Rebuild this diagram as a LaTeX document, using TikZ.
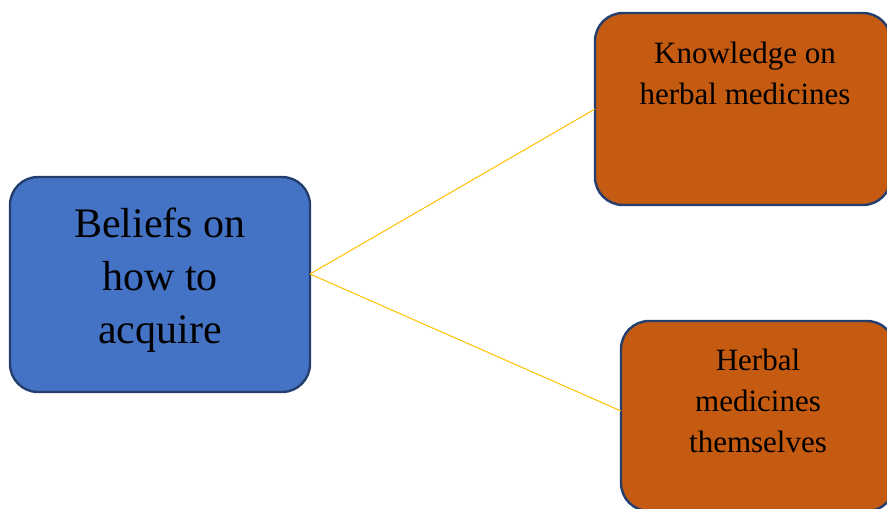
\documentclass[tikz,border=0pt]{standalone}
\usepackage{fontspec}
\setmainfont{Liberation Serif}
\definecolor{boxblue}{HTML}{4472C4}
\definecolor{boxorange}{HTML}{C55A11}
\definecolor{edgeblue}{HTML}{243F6E}
\definecolor{linkyellow}{HTML}{FFC000}
\begin{document}
\begin{tikzpicture}[x=1pt,y=-1pt,
  card/.style={draw=edgeblue, line width=2.4pt, rounded corners=28pt,
    inner sep=0pt, outer sep=0pt},
  bluecard/.style={card, fill=boxblue},
  orangecard/.style={card, fill=boxorange},
  bigtext/.style={align=center, inner sep=0pt,
    font=\fontsize{42}{53}\selectfont},
  smalltext/.style={align=center, inner sep=0pt,
    font=\fontsize{31}{41}\selectfont},
  link/.style={draw=linkyellow, line width=1pt}]
\useasboundingbox (0,0) rectangle (887,509);
\clip (0,0) rectangle (887,509);

% boxes
\node[bluecard, minimum width=300pt, minimum height=215pt] (beliefs) at (160,284.5) {};
\node[orangecard, minimum width=296pt, minimum height=192pt] (knowledge) at (743,109) {};
\node[orangecard, minimum width=274pt, minimum height=190pt] (herbal) at (758,416) {};

% connectors from the hub on the right side of the blue box
\coordinate (hub) at (310,274);
\coordinate (herbalin) at (621,411);
\draw[link] (hub) -- (knowledge.west);
\draw[link] (hub) -- (herbalin);

% texts
\node[bigtext] (beliefstext) at (160,280) {Beliefs on\\how to\\acquire};
\node[smalltext] (knowledgetext) at (745,73) {Knowledge on\\herbal medicines};
\node[smalltext] (herbaltext) at (758,401) {Herbal\\medicines\\themselves};
\end{tikzpicture}
\end{document}
